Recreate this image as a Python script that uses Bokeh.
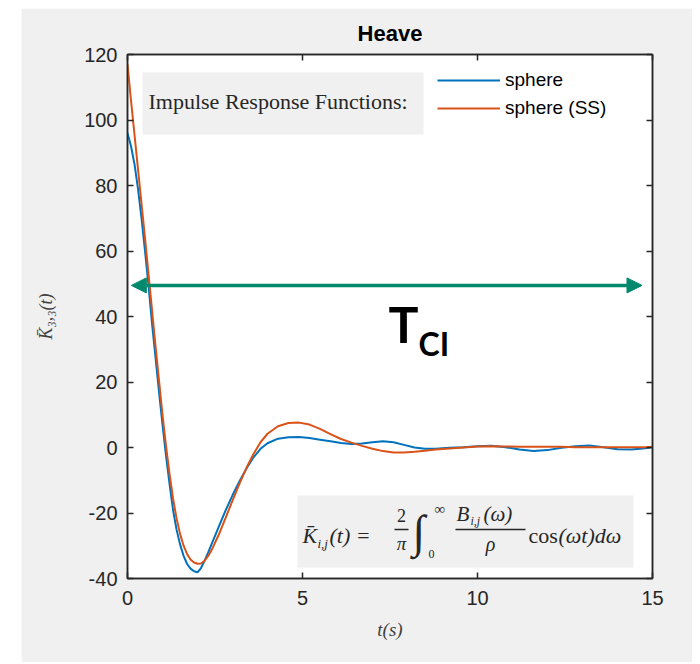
from bokeh.plotting import figure
from bokeh.models import (ColumnDataSource, Legend, LegendItem, LinearAxis, FixedTicker,
                          CustomJSTickFormatter, BoxAnnotation, Label, Arrow, NormalHead, Range1d)
from bokeh.embed import file_html
from bokeh.resources import INLINE

# ---------------- data ----------------
t = [0.0, 0.1, 0.2, 0.3, 0.4, 0.5, 0.6, 0.7, 0.8, 0.9, 1.0, 1.1, 1.2, 1.3, 1.4, 1.5, 1.6, 1.7,
     1.8, 1.9, 2.0, 2.1, 2.2, 2.3, 2.4, 2.6, 2.8, 3.0, 3.2, 3.4, 3.6, 3.8, 4.0, 4.3, 4.6, 4.9,
     5.2, 5.5, 5.8, 6.1, 6.4, 6.7, 7.0, 7.3, 7.6, 7.9, 8.2, 8.5, 8.8, 9.2, 9.6, 10.0, 10.4,
     10.8, 11.2, 11.6, 12.0, 12.4, 12.8, 13.2, 13.6, 14.0, 14.4, 14.8, 15.0]
sphere = [96.0, 92.0, 86.5, 79.0, 70.0, 60.0, 49.5, 38.0, 27.5, 17.0, 7.0, -2.5, -11.0, -19.0,
          -25.0, -29.5, -33.0, -35.5, -37.0, -37.8, -38.1, -36.8, -34.6, -32.2, -29.6, -24.4,
          -19.3, -14.6, -10.3, -6.4, -3.0, -0.4, 1.3, 2.7, 3.1, 3.2, 2.9, 2.4, 1.9, 1.4, 1.1,
          1.2, 1.6, 1.9, 1.6, 0.8, 0.0, -0.4, -0.4, -0.1, 0.1, 0.4, 0.5, 0.1, -0.6, -1.1, -0.8,
          -0.1, 0.4, 0.6, 0.1, -0.5, -0.6, -0.2, 0.1]
sphere_ss = [117.0, 106.0, 95.5, 85.0, 74.5, 64.0, 53.0, 42.0, 31.0, 20.5, 10.0, 0.5, -8.0,
             -15.5, -21.5, -26.3, -29.9, -32.5, -34.2, -35.1, -35.5, -35.4, -34.6, -33.2, -31.4,
             -26.8, -21.6, -16.2, -11.0, -6.2, -2.0, 1.6, 4.2, 6.5, 7.5, 7.6, 7.0, 5.7, 4.1, 2.6,
             1.5, 0.5, -0.4, -1.1, -1.5, -1.5, -1.3, -1.0, -0.6, -0.3, 0.0, 0.3, 0.4, 0.3, 0.2,
             0.2, 0.2, 0.2, 0.1, 0.1, 0.1, 0.1, 0.1, 0.1, 0.2]
series_names = ["sphere", "sphere (SS)"]
x_ticks = [0, 5, 10, 15]
x_tick_labels = ["0", "5", "10", "15"]
y_ticks = [-40, -20, 0, 20, 40, 60, 80, 100, 120]
y_tick_labels = ["-40", "-20", "0", "20", "40", "60", "80", "100", "120"]
title_text = "Heave"
x_label = "t(s)"
y_label = "K\u0304\u2083,\u2083(t)"
legend_title = "Impulse Response Functions:"
tci_start, tci_end, tci_level = 0.11, 14.7, 49.5

XR = (0, 15)
YR = (-40, 120)

# page-pixel frame (left, top, right, bottom) used to place annotations
FL, FT, FR, FB = 127, 54, 652, 578


def dx(px):
    return XR[0] + (px - FL) * (XR[1] - XR[0]) / (FR - FL)


def dy(py):
    return YR[1] - (py - FT) * (YR[1] - YR[0]) / (FB - FT)


AX = "#262626"
BLUE = "#0072BD"
ORANGE = "#D95319"
GREEN = "#00896C"
PANEL = "#f0f0f0"

p = figure(width=671, height=654, x_range=Range1d(*XR), y_range=Range1d(*YR),
           output_backend="svg", toolbar_location=None,
           min_border_left=FL - 21, min_border_right=692 - FR,
           min_border_top=FT - 8, min_border_bottom=662 - FB,
           background_fill_color="white", border_fill_color=PANEL,
           outline_line_color=AX, outline_line_width=1.5,
           margin=(8, 0, 0, 21))

p.title.text = title_text
p.title.align = "center"
p.title.text_font = "Liberation Sans"
p.title.text_font_size = "22px"
p.title.text_font_style = "bold"
p.title.text_color = "#000000"
p.title.standoff = 17

p.xgrid.visible = False
p.ygrid.visible = False
p.xaxis.ticker = FixedTicker(ticks=x_ticks)
p.yaxis.ticker = FixedTicker(ticks=y_ticks)
p.xaxis.major_label_overrides = dict(zip(x_ticks, x_tick_labels))
p.yaxis.major_label_overrides = dict(zip(y_ticks, y_tick_labels))
for ax in (p.xaxis[0], p.yaxis[0]):
    ax.major_tick_in = 6
    ax.major_tick_out = 0
    ax.minor_tick_line_color = None
    ax.axis_line_color = AX
    ax.axis_line_width = 1.5
    ax.major_tick_line_color = AX
    ax.major_tick_line_width = 1.5
    ax.major_label_text_font = "Liberation Sans"
    ax.major_label_text_font_size = "20px"
    ax.major_label_text_color = AX
    ax.axis_label_text_font = "Liberation Serif"
    ax.axis_label_text_font_style = "italic"
    ax.axis_label_text_color = "#404040"
p.xaxis.major_label_standoff = 12
p.yaxis.major_label_standoff = 10
p.xaxis.axis_label = x_label
p.xaxis.axis_label_text_font_size = "19px"
p.xaxis.axis_label_standoff = 11
p.yaxis.axis_label = y_label
p.yaxis.axis_label_text_font_size = "18px"
p.yaxis.axis_label_standoff = 25

for loc, tk in (("right", y_ticks), ("above", x_ticks)):
    ax = LinearAxis(ticker=FixedTicker(ticks=tk),
                    formatter=CustomJSTickFormatter(code="return ''"),
                    major_tick_in=6, major_tick_out=0, minor_tick_line_color=None,
                    axis_line_color=AX, axis_line_width=1.5,
                    major_tick_line_color=AX, major_tick_line_width=1.5,
                    major_label_standoff=0, major_label_text_font_size="1px")
    p.add_layout(ax, loc)

src = ColumnDataSource(dict(t=t, sphere=sphere, ss=sphere_ss))
r1 = p.line("t", "sphere", source=src, line_color=BLUE, line_width=2)
r2 = p.line("t", "ss", source=src, line_color=ORANGE, line_width=2)

# gray text boxes
p.add_layout(BoxAnnotation(left=dx(142), right=dx(423), top=dy(72), bottom=dy(134),
                           fill_color=PANEL, fill_alpha=1, line_color=None))
p.add_layout(BoxAnnotation(left=dx(297), right=dx(633), top=dy(495), bottom=dy(567),
                           fill_color=PANEL, fill_alpha=1, line_color=None))


def lab(px, py, text, size, style="normal", align="left", font="Liberation Serif",
        color="#262626"):
    # empirical correction: the rendered baseline sits ~0.38 em below the anchor
    p.add_layout(Label(x=dx(px), y=dy(py - 0.38 * size), text=text, text_font=font,
                       text_font_size=f"{size}px", text_font_style=style,
                       text_align=align, text_baseline="alphabetic", text_color=color))


def bar(px0, px1, py):
    p.add_layout(Arrow(start=None, end=None, x_start=dx(px0), x_end=dx(px1),
                       y_start=dy(py), y_end=dy(py), line_color="#262626", line_width=1.5))


lab(148, 109, legend_title, 22)

# formula  K_ij(t) = 2/pi int_0^inf B_ij(w)/rho cos(wt) dw
lab(302, 543, "K\u0304", 22, "italic")
lab(317, 548, "i,j", 13, "italic")
lab(329, 543, "(t) =", 22, "italic")
lab(401, 522, "2", 18, align="center")
bar(394, 408, 529)
lab(401, 550, "\u03c0", 19, "italic", align="center")
lab(412, 548, "\u222b", 46)
lab(434, 514, "\u221e", 15)
lab(428, 558, "0", 12)
lab(456, 521, "B", 21, "italic")
lab(470, 525, "i,j", 12, "italic")
lab(483, 521, "(\u03c9)", 21, "italic")
bar(455, 525, 529)
lab(490, 551, "\u03c1", 20, "italic", align="center")
lab(528, 543, "cos", 22)
lab(558, 543, "(\u03c9t)d\u03c9", 22, "italic")

# legend
leg = Legend(items=[LegendItem(label=series_names[0], renderers=[r1]),
                    LegendItem(label=series_names[1], renderers=[r2])],
             location=(310, 459), padding=0, spacing=6, margin=0,
             glyph_width=63, glyph_height=20, label_height=20, label_standoff=5,
             border_line_color=None, background_fill_color="white", background_fill_alpha=1,
             label_text_font="Liberation Sans", label_text_font_size="19px",
             label_text_color="#000000")
p.add_layout(leg)

# T_CI arrow and label
p.add_layout(Arrow(start=NormalHead(size=15, fill_color=GREEN, line_color=GREEN),
                   end=NormalHead(size=15, fill_color=GREEN, line_color=GREEN),
                   x_start=tci_start, x_end=tci_end, y_start=tci_level, y_end=tci_level,
                   line_color=GREEN, line_width=3.5))
lab(388, 342, "T", 50, "bold", font="Lato", color="#000000")
lab(418, 355, "CI", 32, "bold", font="Lato", color="#000000")

open("out.html", "w").write(file_html(p, INLINE))
